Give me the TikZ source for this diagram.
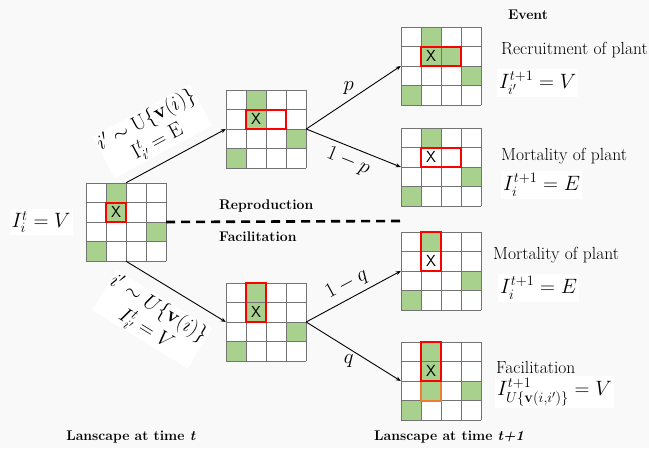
\documentclass[tikz,border=0pt]{standalone}
\usepackage{amsmath}
\usetikzlibrary{positioning,arrows.meta}
\definecolor{leafgreen}{RGB}{169,209,142}
\definecolor{markred}{RGB}{255,0,0}
\definecolor{markorange}{RGB}{237,125,49}
\definecolor{paper}{RGB}{249,249,249}
\tikzset{
  cellline/.style={draw=black!55, line width=1pt},
  leaf/.style    ={fill=leafgreen},
  gridbox/.style ={inner sep=0pt, minimum width=80pt, minimum height=78pt, fill=white},
  redbox/.style  ={draw=markred, line width=2pt},
  orbox/.style   ={draw=markorange, line width=2pt},
  xmark/.style   ={font=\fontsize{16}{16}\sffamily\selectfont, inner sep=0pt},
  fl/.style      ={-{Stealth[length=5pt,width=4pt]}, line width=0.9pt},
  prob/.style    ={font=\fontsize{20}{22}\selectfont, inner sep=2pt},
  cond/.style    ={font=\fontsize{19.5}{22}\selectfont, align=center, fill=white, inner sep=1pt},
  evtxt/.style   ={font=\fontsize{17.5}{19}\selectfont, inner sep=1pt},
  eqtxt/.style   ={font=\fontsize{21}{23}\selectfont, fill=white, inner sep=2pt},
  hd/.style      ={font=\fontsize{14}{16}\selectfont\bfseries, inner sep=1pt},
  sep/.style     ={line width=2.6pt, dash pattern=on 9pt off 6pt}
}
% 4x4 landscape: name, top-left corner, green cells (col/row), marks
\newcommand{\landgrid}[4]{%
  \begin{scope}[shift={#2}]
    \node[gridbox] (#1) at (40,39) {};
    \foreach \c/\r in {#3}
      \fill[leaf] (\c*20,\r*19.5) rectangle ++(20,19.5);
    \foreach \k in {0,...,4}{
      \draw[cellline] (\k*20,0) -- (\k*20,78);
      \draw[cellline] (0,\k*19.5) -- (80,\k*19.5);}
    \node[xmark] (#1x) at (30,29.25) {X};
    #4
  \end{scope}}

\begin{document}
\begin{tikzpicture}[x=1pt, y=-1pt]
  \fill[paper] (0,0) rectangle (649,448);
  \useasboundingbox (0,0) rectangle (649,448);

  % time t
  \landgrid{L}{(86,183)}{1/0,1/1,3/2,0/3}{\draw[redbox] (20,19.5) rectangle (40,39);}
  \node[eqtxt, left=13pt of L](state){$I_i^t = V$};

  % intermediate step
  \landgrid{M1}{(226,90)}{1/0,1/1,3/2,0/3}{\draw[redbox] (20,19.5) rectangle (60,39);}
  \landgrid{M2}{(226,283)}{1/0,1/1,3/2,0/3}{\draw[redbox] (20,0) rectangle (40,39);}

  % time t+1
  \landgrid{R1}{(401,27)}{1/0,1/1,2/1,3/2,0/3}{\draw[redbox] (20,19.5) rectangle (60,39);}
  \landgrid{R2}{(401,128)}{1/0,3/2,0/3}{\draw[redbox] (20,19.5) rectangle (60,39);}
  \landgrid{R3}{(401,232)}{1/0,3/2,0/3}{\draw[redbox] (20,0) rectangle (40,39);}
  \landgrid{R4}{(401,342)}{1/0,1/1,1/2,3/2,0/3}{\draw[orbox] (20,39) rectangle (40,58.5);
    \draw[redbox] (20,0) rectangle (40,39);}

  \draw[fl](L.north)--(M1.west)
    node[cond, sloped, above=9pt, pos=0.42]{$i' \sim \mathrm{U}\{\mathbf{v}(i)\}$\\[2pt]$\mathrm{I}^t_{i'} = \mathrm{E}$};
  \draw[fl](L.south)--(M2.west)
    node[cond, sloped, below=12pt, pos=0.45]{$i' \sim U\{\mathbf{v}(i)\}$\\[2pt]$I^t_{i'} = V$};
  \draw[fl](M1.east)--(R1.west) node[prob, above=4pt, pos=0.45]{$p$};
  \draw[fl](M1.east)--(R2.west) node[prob, sloped, below=3pt, midway]{$1-p$};
  \draw[fl](M2.east)--(R3.west) node[prob, sloped, above=3pt, midway]{$1-q$};
  \draw[fl](M2.east)--(R4.west) node[prob, below=4pt, pos=0.45]{$q$};

  % reproduction / facilitation split
  \coordinate (sepend) at (400,221);
  \draw[sep](L.east)--(sepend);
  \node[hd, anchor=west](rep) at (218,206){Reproduction};
  \node[hd, anchor=west](fac) at (218,237){Facilitation};

  % events
  \node[hd](event) at (528,15){Event};
  \node[evtxt, anchor=west](ev1) at (500,50){Recruitment of plant};
  \node[eqtxt, anchor=west](eq1) at (497,83){$I_{i'}^{t+1} = V$};
  \node[evtxt, anchor=west](ev2) at (500,156){Mortality of plant};
  \node[eqtxt, anchor=west](eq2) at (501,185){$I_i^{t+1} = E$};
  \node[evtxt, anchor=west](ev3) at (492,255){Mortality of plant};
  \node[eqtxt, anchor=west](eq3) at (498,288){$I_i^{t+1} = E$};
  \node[evtxt, anchor=west](ev4) at (495,367){Facilitation};
  \node[eqtxt, anchor=west](eq4) at (495,392){$I^{t+1}_{U\{\mathbf{v}(i,i')\}} = V$};

  \node[hd](capt) at (131,437){Lanscape at time \textit{t}};
  \node[hd](capt1) at (449,437){Lanscape at time \textit{t+1}};
\end{tikzpicture}
\end{document}
